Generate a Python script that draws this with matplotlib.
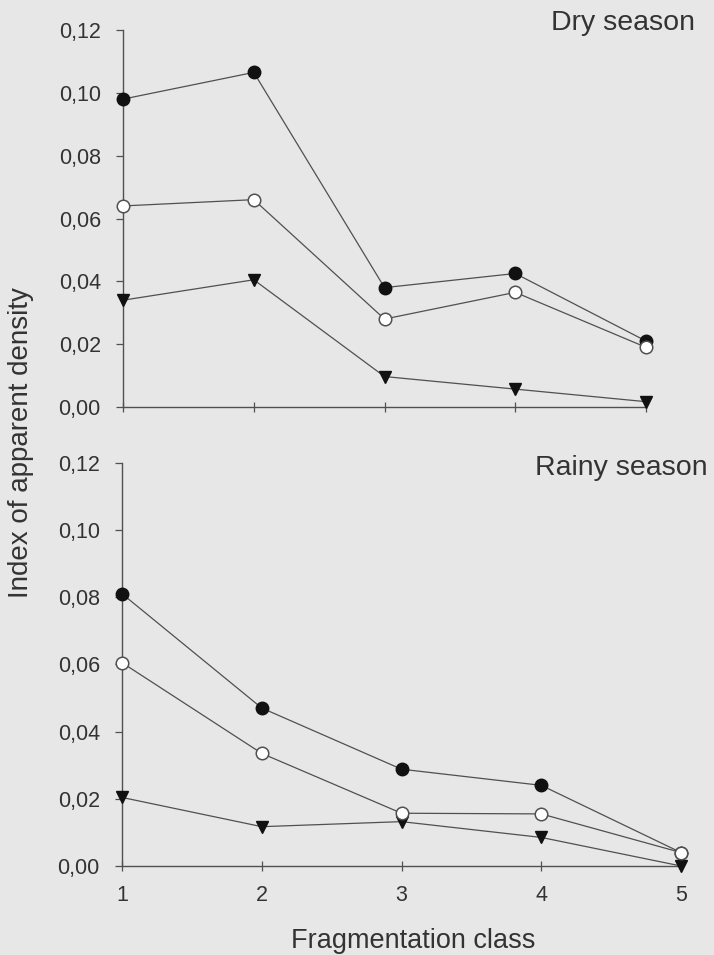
import matplotlib
matplotlib.use("Agg")
import matplotlib.pyplot as plt
from matplotlib.ticker import FuncFormatter

classes = [1, 2, 3, 4, 5]

dry_filled = [0.098, 0.1065, 0.038, 0.0425, 0.021]
dry_open = [0.064, 0.066, 0.028, 0.0365, 0.019]
dry_tri = [0.034, 0.0405, 0.0097, 0.0057, 0.0017]

rainy_filled = [0.081, 0.047, 0.0288, 0.024, 0.004]
rainy_open = [0.0605, 0.0335, 0.0157, 0.0155, 0.004]
rainy_tri = [0.0204, 0.0117, 0.0132, 0.0085, 0.0]

yticks = [0.0, 0.02, 0.04, 0.06, 0.08, 0.10, 0.12]
panel_titles = ["Dry season", "Rainy season"]
xlabel = "Fragmentation class"
ylabel = "Index of apparent density"

plt.rcParams['font.family'] = ['Liberation Sans', 'DejaVu Sans']
bg = '#e7e7e7'
lc = '#505050'
tc = '#333333'

fig = plt.figure(figsize=(7.14, 9.55), dpi=100, facecolor=bg)
ax1 = fig.add_axes([0.1723, 0.5738, 0.7325, 0.3948])
ax2 = fig.add_axes([0.1709, 0.0932, 0.7829, 0.4223])

fmt = FuncFormatter(lambda v, p: f"{v:.2f}".replace('.', ','))

def style(ax, show_xlabels):
    ax.set_facecolor(bg)
    ax.set_xlim(1, 5)
    ax.set_ylim(0, 0.12)
    ax.set_yticks(yticks)
    ax.yaxis.set_major_formatter(fmt)
    ax.set_xticks(classes)
    for s in ['top', 'right']:
        ax.spines[s].set_visible(False)
    for s in ['left', 'bottom']:
        ax.spines[s].set_color(lc)
        ax.spines[s].set_linewidth(1.0)
    ax.tick_params(axis='y', direction='out', length=5, width=0.9, color=lc,
                   labelsize=15.5, labelcolor=tc, pad=11)
    ax.tick_params(axis='x', direction='inout', length=7, width=0.9, color=lc,
                   labelsize=15.5, labelcolor=tc, pad=10,
                   labelbottom=show_xlabels)
    for sp in ax.spines.values():
        sp.set_clip_on(False)

def draw(ax, f, o, t):
    kw = dict(color=lc, lw=0.9, clip_on=False)
    ax.plot(classes, t, marker='v', ms=8.5, mfc='#111111', mec='#111111', zorder=3, **kw)
    ax.plot(classes, o, marker='o', ms=9, mfc='white', mec=lc, mew=1.1, zorder=4, **kw)
    ax.plot(classes, f, marker='o', ms=9, mfc='#111111', mec='#111111', zorder=3, **kw)

style(ax1, False)
style(ax2, True)
draw(ax1, dry_filled, dry_open, dry_tri)
draw(ax2, rainy_filled, rainy_open, rainy_tri)

fig.text(0.9734, 0.9686, panel_titles[0], ha='right', va='baseline', fontsize=20.5, color=tc)
fig.text(0.9916, 0.5026, panel_titles[1], ha='right', va='baseline', fontsize=20.5, color=tc)
fig.text(0.030, 0.537, ylabel, rotation=90, ha='center', va='center', fontsize=20, color=tc)
fig.text(0.579, 0.0073, xlabel, ha='center', va='baseline', fontsize=19.5, color=tc)

fig.savefig('out.png', dpi=100, facecolor=bg)
